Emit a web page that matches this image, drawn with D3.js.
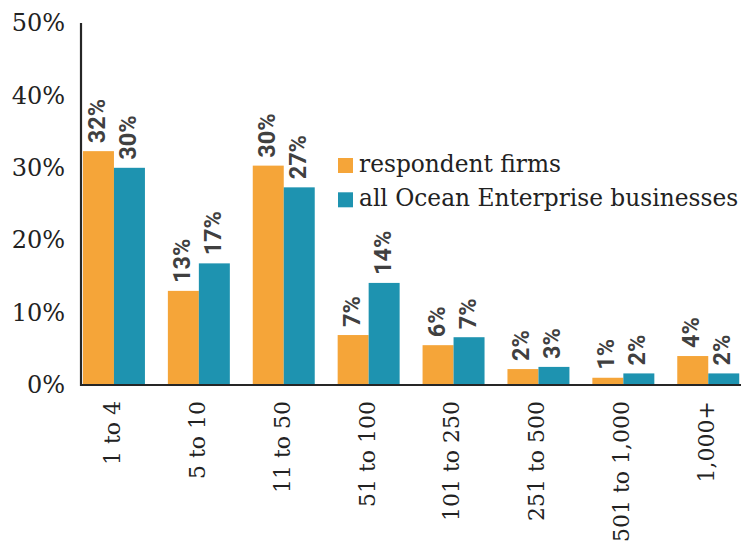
<!DOCTYPE html>
<html>
<head>
<meta charset="utf-8">
<script src="https://cdn.jsdelivr.net/npm/d3@7"></script>
<style>
  html, body { margin: 0; padding: 0; background: #fff; }
  svg { display: block; }
</style>
</head>
<body>
<svg id="chart" width="741" height="544"></svg>
<script>
// Firm size (number of employees)
const categories = ["1 to 4", "5 to 10", "11 to 50", "51 to 100", "101 to 250", "251 to 500", "501 to 1,000", "1,000+"];
const seriesNames = ["respondent firms", "all Ocean Enterprise businesses"];
// Share of firms in each size band, percent
const respondentFirms = [32.3, 13.0, 30.3, 6.9, 5.5, 2.2, 1.0, 4.0];
const allOceanEnterprise = [30.0, 16.8, 27.3, 14.1, 6.6, 2.5, 1.6, 1.6];
const yTicks = [0, 10, 20, 30, 40, 50];

const colors = ["#F5A539", "#1E93B0"];
const serif = "'DejaVu Serif', 'Liberation Serif', serif";
const sans = "Roboto, 'Open Sans', 'DejaVu Sans', sans-serif";

const svg = d3.select("#chart");
const plot = { left: 81, top: 23, bottom: 385, right: 741 };

const y = d3.scaleLinear().domain([0, 50]).range([plot.bottom, plot.top]);
const x0 = d3.scaleBand().domain(categories).range([71.5, 750.7])
  .paddingInner(0.27).paddingOuter(0.135);
const x1 = d3.scaleBand().domain(seriesNames).range([0, x0.bandwidth()]).padding(0);

const series = [respondentFirms, allOceanEnterprise];
const rows = [];
series.forEach((vals, si) => vals.forEach((v, ci) => rows.push({ s: seriesNames[si], si, cat: categories[ci], v })));

// bars
svg.append("g").selectAll("rect").data(rows).join("rect")
  .attr("x", d => x0(d.cat) + x1(d.s))
  .attr("y", d => y(d.v))
  .attr("width", x1.bandwidth())
  .attr("height", d => y(0) - y(d.v))
  .attr("fill", d => colors[d.si]);

// value labels, rotated
svg.append("g").selectAll("text").data(rows).join("text")
  .attr("transform", d => `translate(${x0(d.cat) + x1(d.s) + x1.bandwidth() / 2 - 2},${y(d.v) - 8}) rotate(-90)`)
  .attr("dy", "0.36em")
  .attr("text-anchor", "start")
  .style("font-family", sans)
  .style("font-weight", "bold")
  .style("font-size", "23.5px")
  .attr("fill", "#404040")
  .text(d => Math.round(d.v) + "%");

// y axis
const yAxis = d3.axisLeft(y).tickValues(yTicks).tickFormat(d => d + "%").tickSize(0).tickPadding(16);
const gy = svg.append("g").attr("transform", `translate(${plot.left},0)`).call(yAxis);
gy.select(".domain").remove();
gy.selectAll("text")
  .style("font-family", serif).style("font-size", "24px").attr("fill", "#222");

// x axis labels
const xAxis = d3.axisBottom(x0).tickSize(0).tickPadding(0);
const gx = svg.append("g").attr("transform", `translate(0,${plot.bottom})`).call(xAxis);
gx.select(".domain").remove();
gx.selectAll("text")
  .attr("transform", "translate(-2,16) rotate(-90)")
  .attr("x", 0).attr("y", 0)
  .attr("dy", "0.36em")
  .attr("text-anchor", "end")
  .style("font-family", serif).style("font-size", "22px").attr("fill", "#222");

// axis lines
svg.append("line").attr("x1", plot.left).attr("x2", plot.left)
  .attr("y1", plot.top).attr("y2", plot.bottom + 1)
  .attr("stroke", "#262626").attr("stroke-width", 2.2);
svg.append("line").attr("x1", plot.left - 1).attr("x2", plot.right)
  .attr("y1", plot.bottom).attr("y2", plot.bottom)
  .attr("stroke", "#262626").attr("stroke-width", 2);

// legend
const legend = svg.append("g").attr("transform", "translate(338,158)");
const items = legend.selectAll("g").data(seriesNames).join("g")
  .attr("transform", (d, i) => `translate(0,${i * 34.3})`);
items.append("rect").attr("width", 15).attr("height", 15).attr("fill", (d, i) => colors[i]);
items.append("text").attr("x", 21).attr("y", 14)
  .style("font-family", serif).style("font-size", "23.3px").attr("fill", "#222")
  .text(d => d);
</script>
</body>
</html>
